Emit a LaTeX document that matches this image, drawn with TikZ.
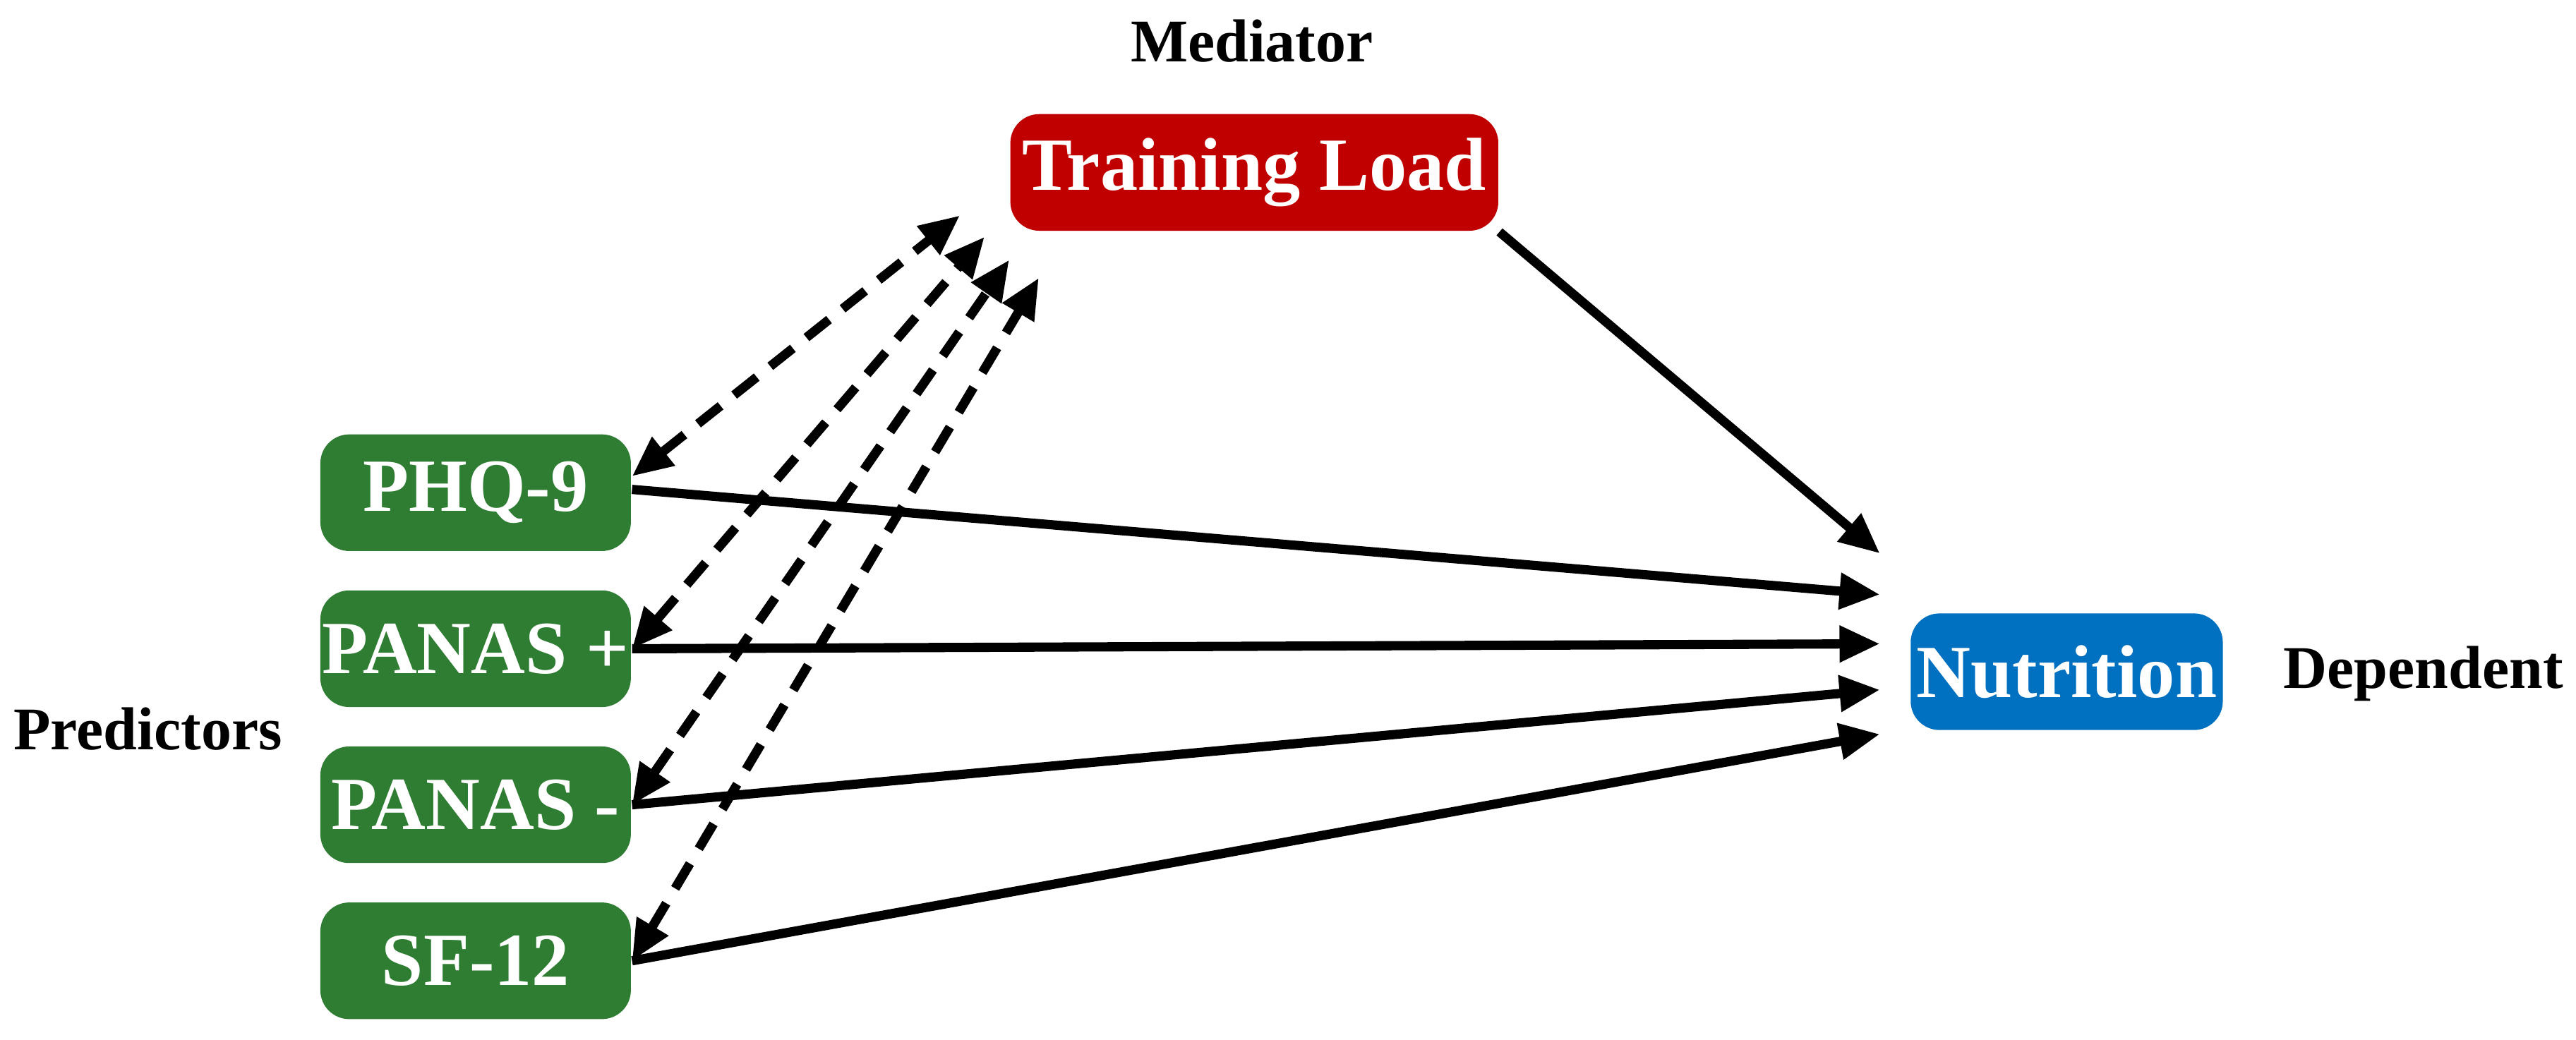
\documentclass[tikz,border=0pt]{standalone}
\usepackage{fontspec}
\setmainfont{Liberation Serif}
\usetikzlibrary{arrows.meta,positioning,calc}
\definecolor{predgreen}{RGB}{46,125,50}
\definecolor{medred}{RGB}{192,0,0}
\definecolor{depblue}{RGB}{0,112,192}
\begin{document}
\begin{tikzpicture}
\tikzset{
     box/.style={rounded corners=5pt, text=white, font=\fontsize{13}{15}\selectfont\bfseries, minimum height=0.71cm, inner sep=0pt},
     pred/.style={box, fill=predgreen, minimum width=1.89cm},
     tag/.style={font=\fontsize{10.5}{12}\selectfont\bfseries},
     link/.style={line width=1.6pt, -{Triangle[length=7pt,width=6pt]}},
     back/.style={line width=1.6pt, dash pattern=on 5pt off 3pt, {Triangle[length=7pt,width=6pt]}-{Triangle[length=7pt,width=6pt]}}}
\useasboundingbox (0,0) rectangle (15.68,6.33);

% The boxes
\node (load) [box, fill=medred, minimum width=2.97cm] at (7.635,5.28) {Training Load};
\node (nutrition) [box, fill=depblue, minimum width=1.9cm] at (12.58,2.24) {Nutrition};
\node (phq)    [pred] at (2.895,3.33) {PHQ-9};
\node (panasp) [pred] at (2.895,2.38) {PANAS +};
\node (panasm) [pred] at (2.895,1.43) {PANAS -};
\node (sf)     [pred] at (2.895,0.48) {SF-12};

% The labels
\node [tag] at (7.62,6.08) {Mediator};
\node [tag] at (0.90,1.89) {Predictors};
\node [tag] at (14.75,2.23) {Dependent};

% The arrows
\draw [link] ($(phq.east)+(0,0.02)$) -- ($(nutrition.west)+(-0.18,0.47)$);
\draw [link] (panasp.east) -- ($(nutrition.west)+(-0.18,0.17)$);
\draw [link] (panasm.east) -- ($(nutrition.west)+(-0.18,-0.11)$);
\draw [link] (sf.east) -- ($(nutrition.west)+(-0.18,-0.38)$);
\draw [link] (load.south east) -- ($(nutrition.west)+(-0.18,0.72)$);

\draw [back] ($(phq.east)+(0,0.1)$) -- ($(load.south west)+(-0.3,0.1)$);
\draw [back] (panasp.east) -- ($(load.south west)+(-0.15,-0.03)$);
\draw [back] (panasm.east) -- ($(load.south west)+(0,-0.17)$);
\draw [back] (sf.east) -- ($(load.south west)+(0.18,-0.28)$);
\end{tikzpicture}
\end{document}
